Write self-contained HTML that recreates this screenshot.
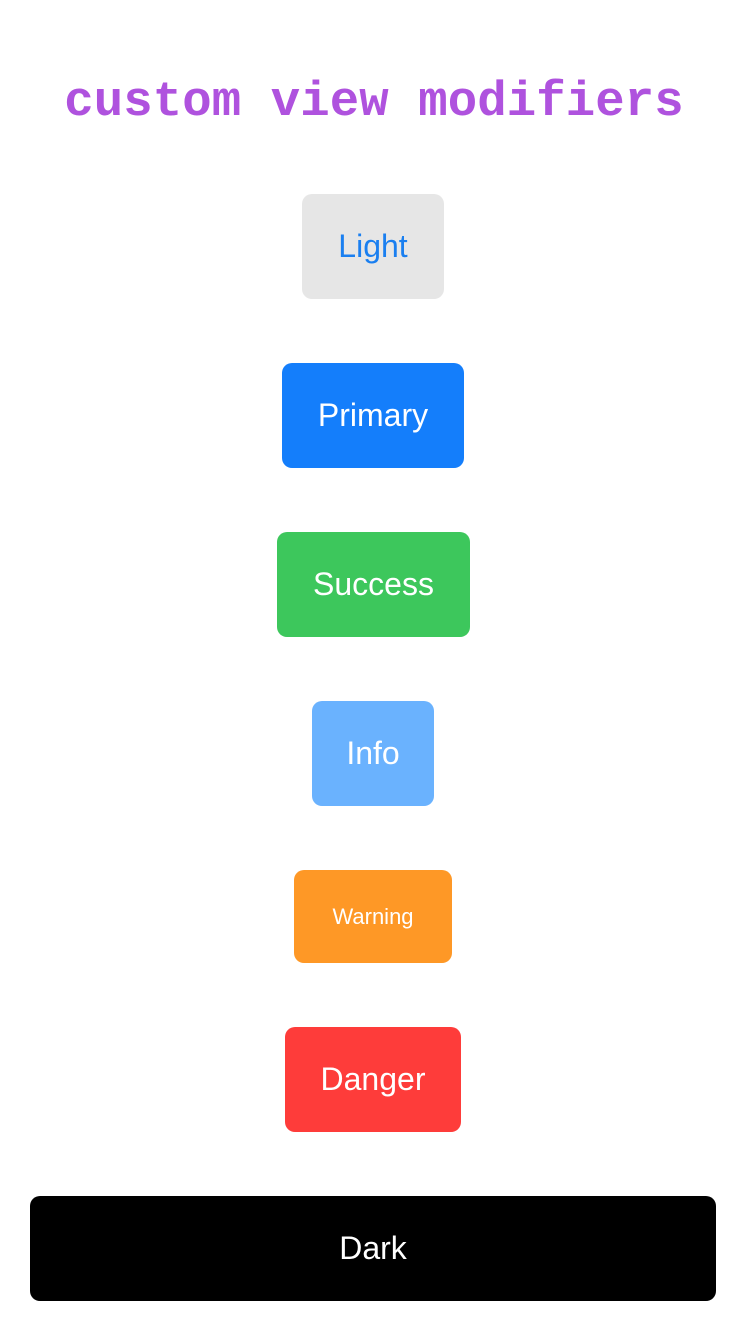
<!DOCTYPE html>
<html><head><style>
html,body{margin:0;padding:0;background:#fff;width:748px;height:1332px;overflow:hidden;position:relative}
.t{position:absolute;left:0;width:748px;top:72px;text-align:center;font-family:"Liberation Mono",monospace;font-weight:bold;font-size:49px;letter-spacing:0.1px;color:#af52de;line-height:60px}
.b{position:absolute;border-radius:10px;display:flex;align-items:center;justify-content:center;font-family:"Liberation Sans",sans-serif;font-size:32px;color:#fff}
</style></head><body>
<div class="t">custom view modifiers</div>
<div class="b" style="left:302px;top:194px;width:142px;height:105px;background:#e6e6e6;color:#1a7ff0">Light</div>
<div class="b" style="left:282px;top:363px;width:182px;height:105px;background:#147efb">Primary</div>
<div class="b" style="left:277px;top:532px;width:193px;height:105px;background:#3dc75c">Success</div>
<div class="b" style="left:312px;top:701px;width:122px;height:105px;background:#6ab2fe">Info</div>
<div class="b" style="left:294px;top:870px;width:158px;height:93px;background:#fe9826;font-size:22px">Warning</div>
<div class="b" style="left:285px;top:1027px;width:176px;height:105px;background:#fe3c3a">Danger</div>
<div class="b" style="left:30px;top:1196px;width:686px;height:105px;background:#000">Dark</div>
</body></html>
